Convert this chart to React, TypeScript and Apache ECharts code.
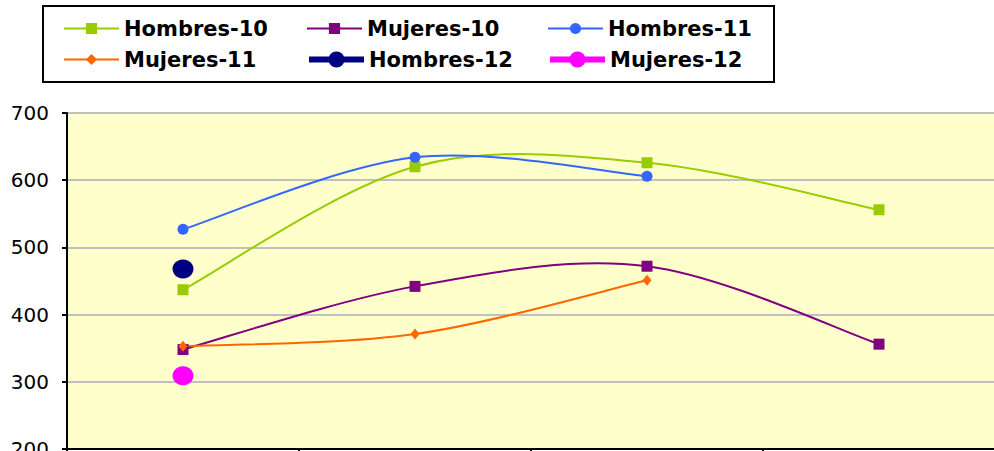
import React, { useEffect, useRef } from "react";
import * as echarts from "echarts";

const categories = ["1", "2", "3", "4"];
const hombres10 = [437, 620, 626, 556];
const mujeres10 = [348, 442, 472, 356];
const hombres11 = [527, 634, 606];
const mujeres11 = [353, 371, 451];
const hombres12 = [468];
const mujeres12 = [309];
const yTicks = { min: 200, max: 700, interval: 100 };

const FONT = "DejaVu Sans";

// Excel-style smoothed line drawn through the axis scales (api.coord)
function smoothLine(values: number[], color: string) {
  return {
    type: "custom",
    coordinateSystem: "cartesian2d",
    data: values.map((v, i) => [i, v]),
    clip: false,
    silent: true,
    z: 2,
    renderItem: (params: any, api: any) => {
      const i = params.dataIndex;
      const n = values.length;
      if (i >= n - 1) return { type: "group", children: [] };
      const pt = (k: number) => {
        const kk = Math.max(0, Math.min(n - 1, k));
        return api.coord([kk, values[kk]]);
      };
      const p0 = pt(i - 1);
      const p1 = pt(i);
      const p2 = pt(i + 1);
      const p3 = pt(i + 2);
      const t = 1 / 6;
      return {
        type: "bezierCurve",
        shape: {
          x1: p1[0],
          y1: p1[1],
          x2: p2[0],
          y2: p2[1],
          cpx1: p1[0] + (p2[0] - p0[0]) * t,
          cpy1: p1[1] + (p2[1] - p0[1]) * t,
          cpx2: p2[0] - (p3[0] - p1[0]) * t,
          cpy2: p2[1] - (p3[1] - p1[1]) * t,
        },
        style: { stroke: color, lineWidth: 2, fill: "none" },
      };
    },
  };
}

export default function App() {
  const ref = useRef<HTMLDivElement>(null);
  useEffect(() => {
    if (!ref.current) return;
    const chart = echarts.init(ref.current, undefined, { renderer: "svg" });
    const legendText = { fontSize: 21, fontWeight: "bold" as const, fontFamily: FONT, color: "#000" };
    const mkLegend = (name: string, left: number, top: number, itemHeight: number, lw: number, color: string) => ({
      data: [name],
      left,
      top,
      padding: 0,
      itemWidth: 55,
      itemHeight,
      orient: "horizontal" as const,
      textStyle: legendText,
      lineStyle: { width: lw, color, opacity: 1 },
      selectedMode: false,
    });
    const markerSeries = (name: string, data: number[], symbol: string, size: any, color: string, lw: number) => ({
      name,
      type: "line",
      data,
      symbol,
      symbolSize: size,
      showSymbol: true,
      z: 3,
      itemStyle: { color },
      lineStyle: { color, width: lw, opacity: 0 },
    });
    chart.setOption({
      animation: false,
      backgroundColor: "#ffffff",
      legend: [
        mkLegend("Hombres-10", 63, 18, 14, 2, "#99CC00"),
        mkLegend("Mujeres-10", 306, 18, 14, 2, "#800080"),
        mkLegend("Hombres-11", 547, 18, 14, 2, "#3366FF"),
        mkLegend("Mujeres-11", 63, 49, 14, 2, "#FF6600"),
        mkLegend("Hombres-12", 306, 49, 20, 6, "#000080"),
        mkLegend("Mujeres-12", 547, 49, 20, 6, "#FF00FF"),
      ],
      graphic: [
        {
          type: "rect",
          shape: { x: 43, y: 6, width: 731, height: 76 },
          style: { fill: "none", stroke: "#000", lineWidth: 2 },
          z: 100,
        },
      ],
      grid: {
        left: 67,
        right: -1,
        top: 113,
        bottom: 2,
        outerBoundsMode: "none",
        containLabel: false,
        show: true,
        backgroundColor: "#FFFFCC",
        borderColor: "#000",
        borderWidth: 2,
      },
      xAxis: {
        type: "category",
        data: categories,
        boundaryGap: true,
        axisLine: { lineStyle: { color: "#000", width: 2 } },
        axisTick: { show: true, length: 5, lineStyle: { color: "#000", width: 2 } },
        axisLabel: { show: false },
        splitLine: { show: false },
      },
      yAxis: {
        type: "value",
        min: yTicks.min,
        max: yTicks.max,
        interval: yTicks.interval,
        axisLine: { show: true, lineStyle: { color: "#000", width: 2 } },
        axisTick: { show: true, length: 5, lineStyle: { color: "#000", width: 2 } },
        axisLabel: { fontSize: 20, fontFamily: FONT, color: "#000", margin: 18 },
        splitLine: { lineStyle: { color: "#C0C0C0", width: 2 } },
      },
      series: [
        smoothLine(hombres10, "#99CC00"),
        smoothLine(mujeres10, "#800080"),
        smoothLine(hombres11, "#3366FF"),
        smoothLine(mujeres11, "#FF6600"),
        markerSeries("Hombres-10", hombres10, "rect", 11, "#99CC00", 2),
        markerSeries("Mujeres-10", mujeres10, "rect", 11, "#800080", 2),
        markerSeries("Hombres-11", hombres11, "circle", 11, "#3366FF", 2),
        markerSeries("Mujeres-11", mujeres11, "diamond", [9, 11], "#FF6600", 2),
        markerSeries("Hombres-12", hombres12, "circle", [21, 19], "#000080", 6),
        markerSeries("Mujeres-12", mujeres12, "circle", [21, 19], "#FF00FF", 6),
      ],
    });
    return () => chart.dispose();
  }, []);
  return (
    <div
      ref={ref}
      style={{ position: "fixed", left: 0, top: 0, width: 994, height: 451, background: "#fff" }}
    />
  );
}
